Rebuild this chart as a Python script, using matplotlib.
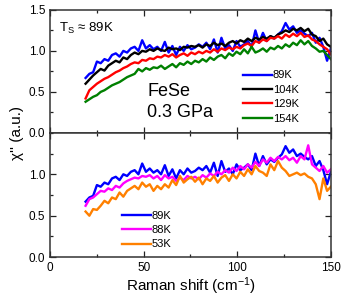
import numpy as np
import matplotlib
matplotlib.use("Agg")
import matplotlib.pyplot as plt
from matplotlib.ticker import MultipleLocator, FixedLocator, FormatStrFormatter

# Datos (Raman shift en cm^-1, chi'' en u.a.)
raman_shift = np.linspace(19, 150, 66)

chi_89K = [0.67, 0.72, 0.74, 0.87, 0.85, 0.90, 0.88, 0.95, 0.97, 0.93,
           1.00, 0.98, 1.03, 1.05, 1.00, 1.13, 1.03, 1.07, 1.02, 1.05,
           1.00, 1.11, 0.98, 1.06, 0.95, 1.05, 1.00, 1.07, 1.02, 1.04,
           1.08, 1.05, 1.10, 1.02, 1.14, 0.98, 1.16, 1.03, 1.07, 1.00,
           1.12, 1.05, 1.08, 1.12, 1.05, 1.25, 1.10, 1.22, 1.12, 1.18,
           1.15, 1.20, 1.24, 1.34, 1.26, 1.30, 1.22, 1.25, 1.21, 1.18,
           1.22, 1.10, 1.16, 1.05, 0.88, 1.03]
chi_104K = [0.60, 0.65, 0.70, 0.74, 0.78, 0.76, 0.82, 0.85, 0.88, 0.86,
            0.92, 0.90, 0.95, 0.98, 0.96, 1.00, 0.99, 1.02, 1.00, 1.03,
            1.01, 1.00, 1.04, 1.02, 1.03, 1.01, 1.05, 1.04, 1.06, 1.05,
            1.07, 1.04, 1.08, 1.06, 1.10, 1.07, 1.09, 1.06, 1.10, 1.12,
            1.09, 1.13, 1.11, 1.15, 1.12, 1.16, 1.14, 1.17, 1.15, 1.18,
            1.16, 1.20, 1.22, 1.25, 1.23, 1.27, 1.25, 1.28, 1.24, 1.27,
            1.20, 1.18, 1.12, 1.15, 1.08, 1.05]
chi_129K = [0.42, 0.52, 0.56, 0.60, 0.63, 0.66, 0.68, 0.71, 0.74, 0.76,
            0.79, 0.81, 0.84, 0.86, 0.85, 0.89, 0.88, 0.91, 0.90, 0.93,
            0.92, 0.95, 0.93, 0.96, 0.92, 0.95, 0.97, 0.94, 0.98, 0.96,
            0.99, 0.97, 1.00, 0.98, 1.02, 0.99, 1.03, 1.01, 1.04, 1.02,
            1.05, 1.03, 1.07, 1.09, 1.06, 1.12, 1.10, 1.14, 1.12, 1.16,
            1.15, 1.18, 1.15, 1.20, 1.17, 1.21, 1.18, 1.22, 1.17, 1.19,
            1.14, 1.12, 1.08, 1.05, 1.02, 0.96]
chi_154K = [0.38, 0.41, 0.44, 0.46, 0.50, 0.52, 0.55, 0.58, 0.60, 0.62,
            0.65, 0.68, 0.70, 0.72, 0.78, 0.75, 0.79, 0.77, 0.80, 0.79,
            0.82, 0.78, 0.81, 0.84, 0.80, 0.85, 0.83, 0.87, 0.84, 0.88,
            0.86, 0.90, 0.87, 0.92, 0.89, 0.93, 0.95, 0.91, 0.97, 0.94,
            0.99, 0.96, 1.02, 0.97, 1.05, 0.98, 1.00, 1.03, 0.99, 1.04,
            1.02, 1.06, 1.03, 1.08, 1.05, 1.10, 1.07, 1.13, 1.08, 1.12,
            1.06, 1.03, 0.99, 1.00, 0.95, 0.90]
chi_88K = [0.62, 0.70, 0.72, 0.76, 0.80, 0.79, 0.83, 0.81, 0.86, 0.84,
           0.89, 0.92, 0.94, 0.96, 0.95, 0.98, 0.97, 0.99, 0.95, 0.98,
           0.93, 0.99, 0.95, 0.97, 0.92, 0.96, 0.93, 0.98, 0.95, 0.97,
           0.94, 0.99, 0.96, 1.01, 0.98, 1.03, 1.00, 1.05, 1.02, 1.08,
           1.04, 1.10, 1.06, 1.12, 1.08, 1.15, 1.10, 1.18, 1.14, 1.20,
           1.16, 1.21, 1.18, 1.22, 1.17, 1.20, 1.14, 1.22, 1.18, 1.35,
           1.12, 1.08, 1.04, 1.10, 1.02, 1.06]
chi_53K = [0.55, 0.50, 0.58, 0.57, 0.62, 0.68, 0.65, 0.72, 0.70, 0.78,
           0.73, 0.80, 0.83, 0.86, 0.82, 0.90, 0.85, 0.88, 0.80, 0.86,
           0.82, 0.88, 0.84, 0.93, 0.87, 0.98, 0.90, 0.94, 0.97, 0.91,
           0.96, 0.88, 0.95, 0.92, 0.98, 0.90, 0.96, 0.99, 0.92, 1.00,
           0.95, 1.03, 0.98, 1.06, 1.00, 1.10, 1.04, 1.02, 0.98, 1.12,
           1.05, 1.16, 1.08, 1.04, 0.98, 1.00, 1.02, 0.99, 1.01, 0.97,
           0.95, 0.88, 0.70, 0.95, 0.80, 0.85]

series_arriba = [("89K", chi_89K, "#0000ff"), ("104K", chi_104K, "#000000"),
                 ("129K", chi_129K, "#ff0000"), ("154K", chi_154K, "#008000")]
series_abajo = [("89K", chi_89K, "#0000ff"), ("88K", chi_88K, "#ff00ff"),
                ("53K", chi_53K, "#ff8000")]

plt.rcParams['font.family'] = ['Liberation Sans', 'DejaVu Sans']
plt.rcParams['mathtext.fontset'] = 'custom'
plt.rcParams['mathtext.rm'] = 'Liberation Sans'
plt.rcParams['mathtext.it'] = 'Liberation Sans:italic'


def estilo_ejes(ax):
    ax.set_xlim(0, 150)
    ax.set_ylim(0, 1.5)
    ax.xaxis.set_major_locator(MultipleLocator(50))
    ax.xaxis.set_minor_locator(MultipleLocator(25))
    ax.yaxis.set_minor_locator(MultipleLocator(0.25))
    ax.yaxis.set_major_formatter(FormatStrFormatter('%.1f'))
    ax.tick_params(which='both', direction='in', top=True, right=True,
                   labelsize=8.5, width=0.9, colors='#222222', labelcolor='black')
    ax.tick_params(which='major', length=4)
    ax.tick_params(which='minor', length=2.5)
    for sp in ax.spines.values():
        sp.set_linewidth(1.1)
        sp.set_color('#333333')


fig = plt.figure(figsize=(3.45, 3.0), dpi=100)
ax1 = fig.add_axes([0.145, 0.557, 0.814, 0.41])
ax2 = fig.add_axes([0.145, 0.143, 0.814, 0.414])

for nombre, datos, color in series_arriba:
    ax1.plot(raman_shift, datos, color=color, lw=1.7, label=nombre)
for nombre, datos, color in series_abajo:
    ax2.plot(raman_shift, datos, color=color, lw=1.7, label=nombre)

estilo_ejes(ax1)
estilo_ejes(ax2)
ax1.yaxis.set_major_locator(FixedLocator([0, 0.5, 1.0, 1.5]))
ax2.yaxis.set_major_locator(FixedLocator([0, 0.5, 1.0]))
ax1.tick_params(labelbottom=False)

ax2.set_xlabel("Raman shift (cm$^{-1}$)", fontsize=11, labelpad=1)
fig.text(0.05, 0.557, "χ'' (a.u.)", rotation=90, fontsize=11,
         ha='center', va='center')

ax1.text(5, 1.27, "T$_{\\rm S}$ ≈ 89K", fontsize=9.5, va='center')
ax1.text(52, 0.5, "FeSe", fontsize=13, va='center')
ax1.text(52, 0.25, "0.3 GPa", fontsize=13, va='center')

ax1.legend(loc='upper left', bbox_to_anchor=(0.687, 0.508), frameon=False,
           fontsize=8, handlelength=2.6, handletextpad=0.1,
           labelspacing=0.4, borderpad=0, borderaxespad=0)
ax2.legend(loc='upper left', bbox_to_anchor=(0.256, 0.375), frameon=False,
           fontsize=8, handlelength=2.6, handletextpad=0.1,
           labelspacing=0.4, borderpad=0, borderaxespad=0)

fig.savefig("out.png", dpi=100)
